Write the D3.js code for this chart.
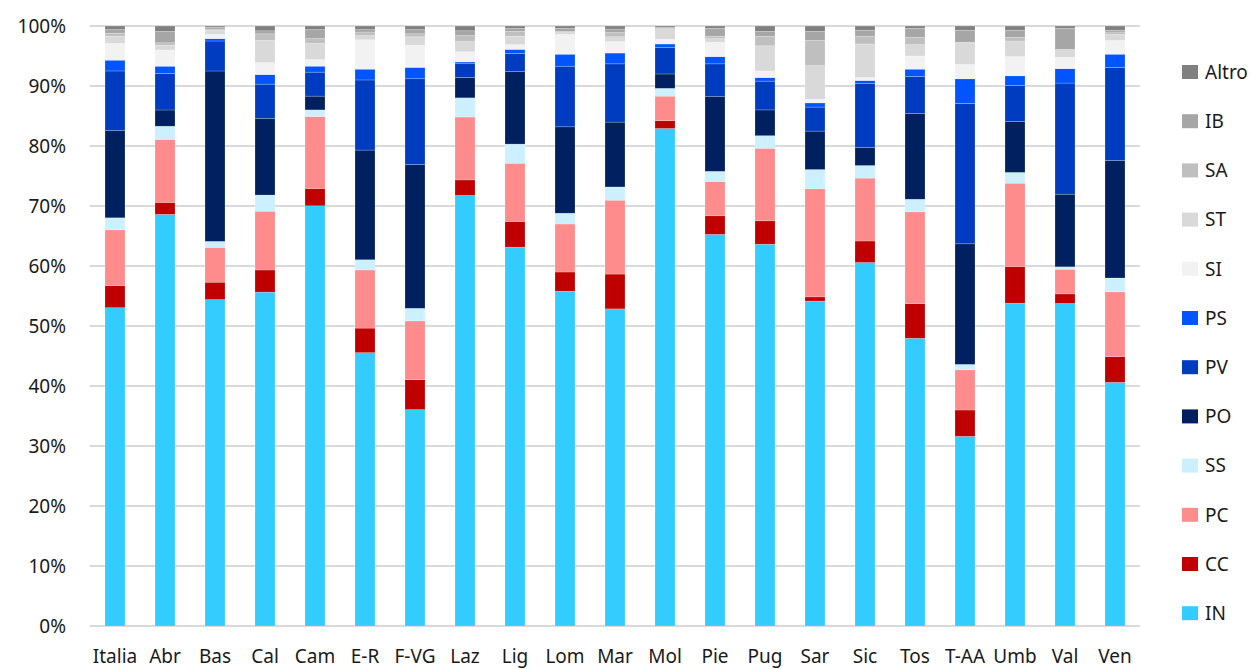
<!DOCTYPE html>
<html lang="it">
<head>
  <meta charset="UTF-8">
  <script src="https://d3js.org/d3.v7.min.js"></script>
  <title>Composizione per regione</title>
  <style>
    body { margin: 0; background: #fff; }
    text { font-family: "Noto Sans", "DejaVu Sans", sans-serif; fill: #1a1a1a; }
  </style>
</head>
<body>
  <svg id="chart" width="1253" height="669"></svg>

  <script>
    // categories (regions)
    var regions = ["Italia","Abr","Bas","Cal","Cam","E-R","F-VG","Laz","Lig","Lom","Mar","Mol","Pie","Pug","Sar","Sic","Tos","T-AA","Umb","Val","Ven"];

    // series, bottom to top (percent)
    var IN    = [53.1,68.6,54.4,55.7,70.1,45.6,36.1,71.9,63.2,55.8,52.8,83.0,65.2,63.7,54.1,60.7,48.0,31.6,53.8,53.7,40.6];
    var CC    = [3.7,2.0,2.9,3.7,2.9,4.1,5.0,2.6,4.3,3.2,5.8,1.3,3.1,3.9,0.7,3.6,5.8,4.4,6.1,1.6,4.3];
    var PC    = [9.3,10.5,5.8,9.8,12.0,9.7,9.8,10.5,9.7,8.0,12.3,4.1,5.7,12.1,18.0,10.5,15.3,6.7,13.9,4.1,10.8];
    var SS    = [2.0,2.2,1.0,2.7,1.1,1.7,2.1,3.2,3.2,1.8,2.2,1.3,1.7,2.1,3.2,2.1,2.1,0.9,1.8,0.4,2.3];
    var PO    = [14.6,2.7,28.4,12.8,2.3,18.3,24.0,3.4,12.1,14.4,10.8,2.4,12.5,4.3,6.4,3.0,14.3,20.1,8.5,12.1,19.6];
    var PV    = [9.9,6.1,5.0,5.7,4.0,11.7,14.3,2.3,3.0,10.1,9.7,4.4,5.4,4.8,4.0,10.7,6.2,23.4,6.0,18.5,15.5];
    var PS    = [1.8,1.2,0.4,1.6,1.0,1.8,1.9,0.3,0.7,2.0,1.8,0.6,1.2,0.6,0.7,0.5,1.2,4.1,1.6,2.4,2.2];
    var SI    = [2.8,2.7,0.7,2.0,1.1,4.9,3.7,1.7,0.8,3.3,1.9,0.8,2.4,1.1,0.6,0.5,2.2,2.4,3.2,1.9,2.3];
    var ST    = [1.2,0.8,0.7,3.7,2.7,0.7,1.4,1.7,1.4,0.3,0.8,1.6,0.6,4.2,5.6,5.6,1.9,3.6,2.6,1.3,1.0];
    var SA    = [0.5,0.4,0.2,1.1,0.8,0.6,0.5,1.0,0.8,0.2,0.7,0.2,0.4,1.6,4.2,1.3,1.2,0.1,0.6,0.0,0.4];
    var IB    = [0.6,1.9,0.3,0.5,1.5,0.4,0.7,0.8,0.5,0.5,0.6,0.2,1.3,0.8,1.5,1.0,1.5,2.0,1.2,3.5,0.3];
    var Altro = [0.6,0.9,0.2,0.8,0.6,0.6,0.6,0.8,0.4,0.4,0.5,0.2,0.4,0.9,0.9,0.7,0.4,0.7,0.7,0.4,0.7];

    var seriesNames = ["IN","CC","PC","SS","PO","PV","PS","SI","ST","SA","IB","Altro"];
    var seriesValues = [IN, CC, PC, SS, PO, PV, PS, SI, ST, SA, IB, Altro];
    var seriesColors = ["#33ccff","#c00000","#ff8c8c","#ccf0ff","#002060","#003cc0","#0055ff","#f2f2f2","#d9d9d9","#bfbfbf","#a6a6a6","#808080"];

    var yTicks = [0, 0.1, 0.2, 0.3, 0.4, 0.5, 0.6, 0.7, 0.8, 0.9, 1];

    // rows for d3.stack
    var rows = regions.map(function(r, i) {
      var row = { region: r };
      seriesNames.forEach(function(s, j) { row[s] = seriesValues[j][i]; });
      return row;
    });

    var svg = d3.select("#chart");

    var x = d3.scaleBand()
      .domain(regions)
      .range([90, 1140])
      .paddingInner(0.6)
      .paddingOuter(0.3);

    var y = d3.scaleLinear()
      .domain([0, 1])
      .range([626, 26]);

    var color = d3.scaleOrdinal()
      .domain(seriesNames)
      .range(seriesColors);

    // gridlines
    svg.append("g")
      .selectAll("line")
      .data(yTicks)
      .enter()
      .append("line")
        .attr("x1", 90)
        .attr("x2", 1140)
        .attr("y1", function(d) { return y(d); })
        .attr("y2", function(d) { return y(d); })
        .attr("stroke", "#d9d9d9")
        .attr("stroke-width", 2);

    // y axis labels
    var yAxis = svg.append("g")
      .attr("transform", "translate(78,0)")
      .call(d3.axisLeft(y).tickValues(yTicks).tickFormat(d3.format(".0%")).tickSize(0).tickPadding(12));
    yAxis.select(".domain").remove();
    yAxis.selectAll("text")
      .style("font-size", "19px")
      .attr("dy", "0.36em");

    // x axis labels
    var xAxis = svg.append("g")
      .attr("transform", "translate(0,626)")
      .call(d3.axisBottom(x).tickSize(0).tickPadding(24));
    xAxis.select(".domain").remove();
    xAxis.selectAll("text")
      .style("font-size", "19px");

    // stacked bars
    var stack = d3.stack()
      .keys(seriesNames)
      .offset(d3.stackOffsetExpand);

    svg.append("g")
      .selectAll("g")
      .data(stack(rows))
      .enter()
      .append("g")
        .attr("fill", function(d) { return color(d.key); })
      .selectAll("rect")
      .data(function(d) { return d; })
      .enter()
      .append("rect")
        .attr("x", function(d) { return x(d.data.region); })
        .attr("width", x.bandwidth())
        .attr("y", function(d) { return y(d[1]); })
        .attr("height", function(d) { return y(d[0]) - y(d[1]); })
        .attr("stroke", "#ffffff")
        .attr("stroke-opacity", 0.35)
        .attr("stroke-width", 0.6);

    // legend, top is last series
    var legend = svg.append("g")
      .selectAll("g")
      .data(seriesNames.slice().reverse())
      .enter()
      .append("g")
        .attr("transform", function(d, i) { return "translate(1182," + (72 + i * 49.2) + ")"; });

    legend.append("rect")
      .attr("x", 0)
      .attr("y", -7)
      .attr("width", 16)
      .attr("height", 14)
      .attr("fill", function(d) { return color(d); });

    legend.append("text")
      .attr("x", 23)
      .attr("dy", "0.36em")
      .style("font-size", "19px")
      .text(function(d) { return d; });
  </script>
</body>
</html>
